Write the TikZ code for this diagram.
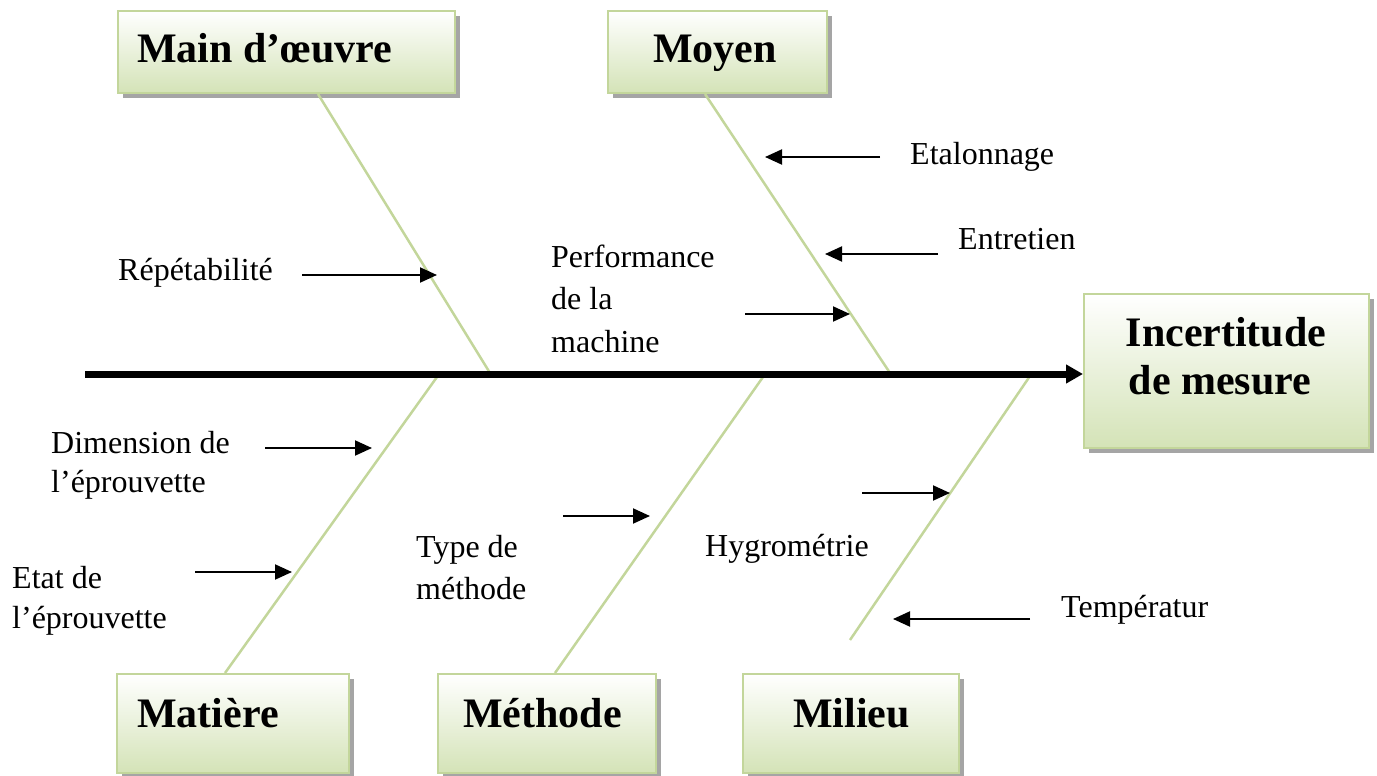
\documentclass[tikz,border=0pt]{standalone}
\usepackage{fontspec}
\setmainfont{Liberation Serif}
\usetikzlibrary{arrows.meta,shadows,calc}
\definecolor{bone}{RGB}{195,214,155}
\definecolor{boxbot}{RGB}{212,227,183}
\definecolor{shadowgray}{RGB}{165,165,165}
\tikzset{
 catbox/.style={draw=bone, line width=2pt, top color=white, bottom color=boxbot,
   drop shadow={shadow xshift=5pt, shadow yshift=-5pt, fill=shadowgray, opacity=1},
   inner sep=0pt, anchor=north west},
 cattext/.style={font=\fontsize{42}{48}\selectfont\bfseries, inner sep=0pt, anchor=base west},
 lbl/.style={font=\fontsize{32}{42}\selectfont, inner sep=0pt, anchor=base west},
 bonel/.style={draw=bone, line width=2.5pt},
 spine/.style={line width=7pt, -{Triangle[length=17pt,width=18pt]}},
 causearrow/.style={-{Triangle[length=17pt,width=15pt]}, line width=2pt},
}
\begin{document}
\begin{tikzpicture}[x=1pt,y=-1pt]
\useasboundingbox (0,0) rectangle (1377,776);
% category boxes
\node[catbox, minimum width=337pt, minimum height=82pt] (mo) at (117,10) {};
\node[catbox, minimum width=219pt, minimum height=82pt] (my) at (607,10) {};
\node[catbox, minimum width=285pt, minimum height=154pt] (ic) at (1083,293) {};
\node[catbox, minimum width=232pt, minimum height=99pt] (ma) at (116,673) {};
\node[catbox, minimum width=218pt, minimum height=99pt] (me) at (437,673) {};
\node[catbox, minimum width=216pt, minimum height=99pt] (mi) at (742,673) {};
% spine
\coordinate (tail) at (85,374);
\coordinate (spMO) at (490,373);
\coordinate (spMY) at (890,373);
\coordinate (spMA) at (437,377);
\coordinate (spME) at (763,377);
\coordinate (spMI) at (1030,376);
\coordinate (miEnd) at (850,640);
% bones
\draw[bonel] (318,0 |- mo.south) -- (spMO);
\draw[bonel] (705,0 |- my.south) -- (spMY);
\draw[bonel] (225,0 |- ma.north) -- (spMA);
\draw[bonel] (555,0 |- me.north) -- (spME);
\draw[bonel] (miEnd) -- (spMI);
\draw[spine] (tail) -- (ic.west |- tail);
% box texts
\node[cattext] (tmo) at (137,63) {Main d’œuvre};
\node[cattext] (tmy) at (653,63) {Moyen};
\node[cattext, anchor=base] (tic1) at (1226,346) {Incertitude};
\node[cattext, anchor=base] (tic2) at (1220,394) {de mesure};
\node[cattext] (tma) at (137,727) {Matière};
\node[cattext] (tme) at (463,727) {Méthode};
\node[cattext] (tmi) at (793,727) {Milieu};
% cause labels
\node[lbl] (repet) at (118,280) {Répétabilité};
\node[lbl] (perf1) at (551,267) {Performance};
\node[lbl] (perf2) at (551,309) {de la};
\node[lbl] (perf3) at (551,352) {machine};
\node[lbl] (etal) at (910,164) {Etalonnage};
\node[lbl] (entr) at (958,249) {Entretien};
\node[lbl] (dim1) at (51,453) {Dimension de};
\node[lbl] (dim2) at (51,492) {l’éprouvette};
\node[lbl] (etat1) at (12,588) {Etat de};
\node[lbl] (etat2) at (12,628) {l’éprouvette};
\node[lbl] (type1) at (416,557) {Type de};
\node[lbl] (type2) at (416,599) {méthode};
\node[lbl] (hygro) at (705,556) {Hygrométrie};
\node[lbl] (temp) at (1061,617) {Températur};
% cause arrows
\coordinate (a1s) at (302,275); \coordinate (a1e) at (437,275);
\coordinate (a2s) at (745,314); \coordinate (a2e) at (850,314);
\coordinate (a3s) at (880,157); \coordinate (a3e) at (765,157);
\coordinate (a4s) at (938,254); \coordinate (a4e) at (825,254);
\coordinate (a5s) at (265,448); \coordinate (a5e) at (372,448);
\coordinate (a6s) at (195,572); \coordinate (a6e) at (292,572);
\coordinate (a7s) at (563,516); \coordinate (a7e) at (650,516);
\coordinate (a8s) at (862,493); \coordinate (a8e) at (950,493);
\coordinate (a9s) at (1030,619); \coordinate (a9e) at (893,619);
\foreach \i in {1,...,9} \draw[causearrow] (a\i s) -- (a\i e);
\end{tikzpicture}
\end{document}
